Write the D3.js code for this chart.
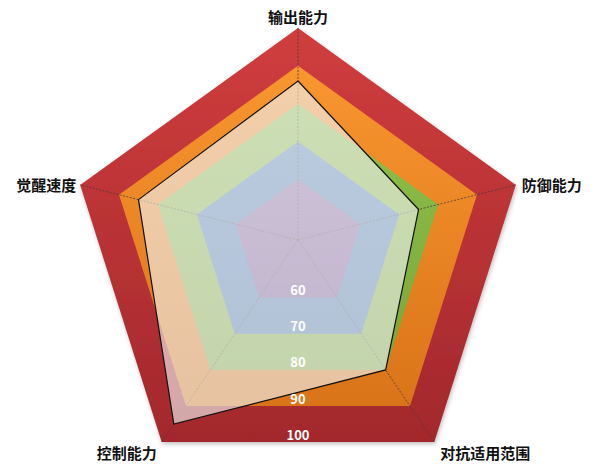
<!DOCTYPE html>
<html><head><meta charset="utf-8">
<script src="https://cdn.jsdelivr.net/npm/d3@7/dist/d3.min.js"></script>
<style>body{margin:0;background:#fff;}svg{display:block;}</style>
</head><body>
<svg id="chart" width="600" height="470"></svg>
<script>
// ---- data ----
const axes = ['输出能力', '防御能力', '对抗适用范围', '控制能力', '觉醒速度'];
const levels = [100, 90, 80, 70, 60];
const levelLabels = ['100', '90', '80', '70', '60'];
const values = [86, 75, 80, 95, 85];

// ---- layout ----
const cx = 298, cy = 240;
const R = 212;
const axisAngle = [-90, -14.2, 56, 124, 194.2];   // degrees (screen coords)
const axisStretch = [1, 1.06, 1.15, 1.15, 1.06];
const r = d3.scaleLinear().domain([44, 100]).range([0, R]);

function pt(i, v) {
  const a = axisAngle[i] * Math.PI / 180;
  const d = r(v) * axisStretch[i];
  return [cx + Math.cos(a) * d, cy + Math.sin(a) * d];
}
const line = d3.line().curve(d3.curveLinearClosed);

const svg = d3.select('#chart');
const defs = svg.append('defs');
const bandColors = [
  ['#d03d3e', '#a2282c'],
  ['#f8962f', '#da7419'],
  ['#8fc04a', '#78a739'],
  ['#5a86bf', '#4876ae'],
  ['#8c6ca8', '#775897']
];
bandColors.forEach((c, k) => {
  const g = defs.append('linearGradient').attr('id', 'g' + k)
    .attr('x1', 0).attr('y1', 0).attr('x2', 0).attr('y2', 1);
  g.append('stop').attr('offset', '0%').attr('stop-color', c[0]);
  g.append('stop').attr('offset', '100%').attr('stop-color', c[1]);
});
const f = defs.append('filter').attr('id', 'sh').attr('x', '-10%').attr('y', '-10%').attr('width', '120%').attr('height', '120%');
f.append('feDropShadow').attr('dx', 1).attr('dy', 2).attr('stdDeviation', 2).attr('flood-color', '#000').attr('flood-opacity', 0.25);

// bands
const bandG = svg.append('g');
levels.forEach((lv, k) => {
  bandG.append('path')
    .attr('d', line(axes.map((_, i) => pt(i, lv))))
    .attr('fill', `url(#g${k})`)
    .attr('filter', k === 0 ? 'url(#sh)' : null);
});

// axis lines
axes.forEach((_, i) => {
  const p = pt(i, 100);
  svg.append('line')
    .attr('x1', cx).attr('y1', cy).attr('x2', p[0]).attr('y2', p[1])
    .attr('stroke', '#4a3a3a').attr('stroke-width', 0.8)
    .attr('stroke-dasharray', '2,1.5');
});

// data polygon
svg.append('path')
  .attr('d', line(values.map((v, i) => pt(i, v))))
  .attr('fill', '#efefef').attr('fill-opacity', 0.64)
  .attr('stroke', '#111').attr('stroke-width', 1.2)
  .attr('stroke-linejoin', 'miter');

// level labels along the bottom
const bottomY = v => (pt(2, v)[1] + pt(3, v)[1]) / 2;
levels.forEach((lv, k) => {
  svg.append('text')
    .attr('x', cx).attr('y', bottomY(lv) - 8)
    .attr('text-anchor', 'middle').attr('dominant-baseline', 'central')
    .attr('font-family', 'Noto Sans CJK SC, Noto Sans, sans-serif')
    .attr('font-weight', 'bold').attr('font-size', 13)
    .attr('fill', '#ffffff')
    .text(levelLabels[k]);
});

// axis labels
const labelPos = [
  {dx: 0, dy: -12, anchor: 'middle'},
  {dx: 6, dy: 0, anchor: 'start'},
  {dx: 6, dy: 10, anchor: 'start'},
  {dx: -35, dy: 10, anchor: 'middle'},
  {dx: -4, dy: 0, anchor: 'end'}
];
axes.forEach((name, i) => {
  const p = pt(i, 100);
  svg.append('text')
    .attr('x', p[0] + labelPos[i].dx).attr('y', p[1] + labelPos[i].dy)
    .attr('text-anchor', labelPos[i].anchor).attr('dominant-baseline', 'central')
    .attr('font-family', 'Noto Sans CJK SC, sans-serif')
    .attr('font-weight', 'bold').attr('font-size', 15)
    .attr('fill', '#111')
    .text(name);
});
</script>
</body></html>
